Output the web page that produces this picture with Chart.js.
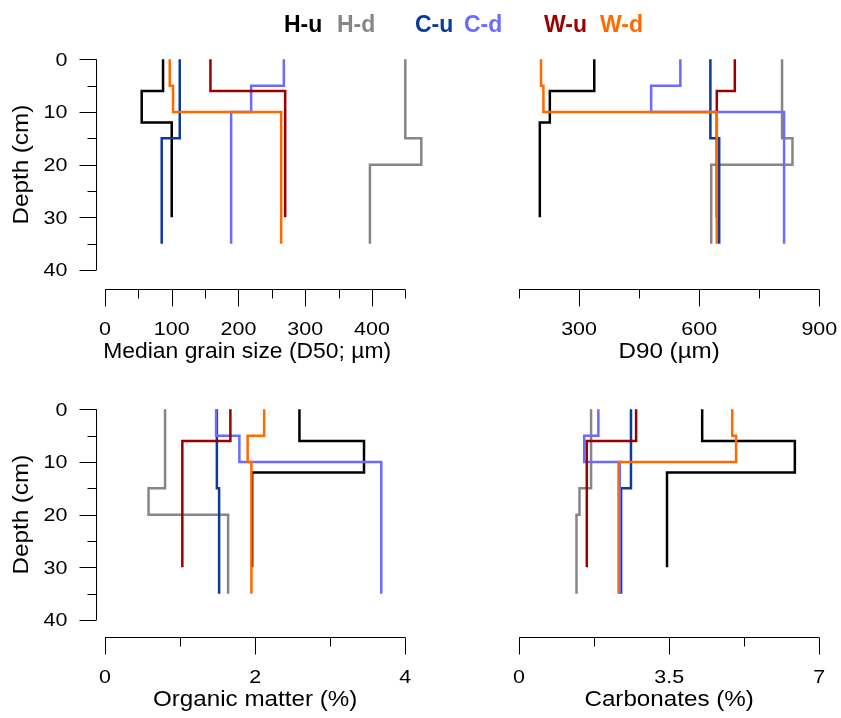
<!DOCTYPE html>
<html>
<head>
<meta charset="utf-8">
<script src="https://cdn.jsdelivr.net/npm/chart.js@4.4.1/dist/chart.umd.min.js"></script>
<style>
html,body{margin:0;padding:0;background:#fff;}
#wrap{position:relative;width:841px;height:718px;overflow:hidden;}
#wrap canvas{position:absolute;left:0;top:0;}
#legend{position:absolute;left:0;top:0;width:841px;height:40px;font:bold 23px/23px "Liberation Sans",Arial,sans-serif;}
#legend span{position:absolute;top:13px;white-space:nowrap;}
</style>
</head>
<body>
<div id="wrap">
<canvas id="c1" width="841" height="718"></canvas>
<canvas id="c2" width="841" height="718"></canvas>
<canvas id="c3" width="841" height="718"></canvas>
<canvas id="c4" width="841" height="718"></canvas>
<div id="legend"></div>
</div>
<script>
// ---------- series names & colours ----------
const seriesNames = ['H-u', 'H-d', 'C-u', 'C-d', 'W-u', 'W-d'];
const seriesColors = ['#000000', '#868686', '#0a3a9c', '#6b6bff', '#9b0000', '#ff6a00'];

// ---------- layer boundaries (depth, cm) ----------
const depthHu = [0, 6, 12, 30];
const depthHd = [0, 15, 20, 35];
const depthCu = [0, 15, 35];
const depthCd = [0, 5, 10, 35];
const depthWu = [0, 6, 30];
const depthWd = [0, 5, 10, 35];

// ---------- Median grain size D50 (µm) ----------
const d50Hu = [87, 55, 100];
const d50Hd = [450, 474, 397];
const d50Cu = [112, 85];
const d50Cd = [268, 219, 189];
const d50Wu = [158, 270];
const d50Wd = [97, 102, 264];

// ---------- D90 (µm) ----------
const d90Hu = [338, 227, 202];
const d90Hd = [807, 833, 630];
const d90Cu = [628, 650];
const d90Cd = [553, 480, 812];
const d90Wu = [689, 644];
const d90Wd = [205, 211, 644];

// ---------- Organic matter (%) ----------
const omHu = [2.59, 3.45, 1.96];
const omHd = [0.80, 0.58, 1.64];
const omCu = [1.49, 1.52];
const omCd = [1.48, 1.79, 3.68];
const omWu = [1.67, 1.03];
const omWd = [2.12, 1.90, 1.95];

// ---------- Carbonates (%) ----------
const carbHu = [4.27, 6.43, 3.45];
const carbHd = [1.68, 1.41, 1.34];
const carbCu = [2.61, 2.38];
const carbCd = [1.85, 1.52, 2.35];
const carbWu = [2.73, 1.58];
const carbWd = [4.97, 5.06, 2.32];

// ---------- tick labels ----------
const depthMajorTicks = [0, 10, 20, 30, 40];
const depthMinorTicks = [5, 15, 25, 35];
const d50MajorTicks = [0, 100, 200, 300, 400];
const d50MinorTicks = [50, 150, 250, 350, 450];
const d50TickLabels = ['0', '100', '200', '300', '400'];
const d90MajorTicks = [300, 600, 900];
const d90MinorTicks = [150, 450, 750];
const d90TickLabels = ['300', '600', '900'];
const omMajorTicks = [0, 2, 4];
const omMinorTicks = [1, 3];
const omTickLabels = ['0', '2', '4'];
const carbMajorTicks = [0, 3.5, 7];
const carbMinorTicks = [1.75, 5.25];
const carbTickLabels = ['0', '3.5', '7'];

const depths = [depthHu, depthHd, depthCu, depthCd, depthWu, depthWd];

// legend
const legendLeft = [284, 337, 415, 464, 544, 600];
const legendEl = document.getElementById('legend');
seriesNames.forEach((n, i) => {
  const s = document.createElement('span');
  s.textContent = n;
  s.style.color = seriesColors[i];
  s.style.left = legendLeft[i] + 'px';
  legendEl.appendChild(s);
});

function stepPoints(vals, dep) {
  const pts = [];
  for (let i = 0; i < vals.length; i++) {
    pts.push({x: vals[i], y: dep[i]});
    pts.push({x: vals[i], y: dep[i + 1]});
  }
  return pts;
}

const FONT = '"Liberation Sans", Arial, sans-serif';
const TICK_FONT = '19px ' + FONT, TICK_SX = 1.13;
const TITLE_FONT = '22px ' + FONT, TITLE_SX = 1.1;

function wideText(ctx, text, x, y, sx, align, rot) {
  ctx.save();
  ctx.translate(x, y);
  if (rot) ctx.rotate(rot);
  ctx.scale(sx, 1);
  ctx.textAlign = align;
  ctx.textBaseline = 'middle';
  ctx.fillText(text, 0, 0);
  ctx.restore();
}

const axesPlugin = {
  id: 'rAxes',
  afterDraw(chart, args, o) {
    const ctx = chart.ctx;
    const xs = chart.scales.x, ys = chart.scales.y;
    ctx.save();
    ctx.strokeStyle = '#000';
    ctx.fillStyle = '#000';
    ctx.lineWidth = 1;
    // x axis
    const ay = Math.round(ys.getPixelForValue(40) + o.xGap) + 0.5;
    const x0 = xs.getPixelForValue(xs.min), x1 = xs.getPixelForValue(xs.max);
    ctx.beginPath();
    ctx.moveTo(x0, ay); ctx.lineTo(x1, ay);
    o.xMajor.forEach(v => { const p = Math.round(xs.getPixelForValue(v)) + 0.5; ctx.moveTo(p, ay); ctx.lineTo(p, ay + 17); });
    o.xMinor.forEach(v => { const p = Math.round(xs.getPixelForValue(v)) + 0.5; ctx.moveTo(p, ay); ctx.lineTo(p, ay + 9); });
    ctx.stroke();
    ctx.font = TICK_FONT;
    o.xMajor.forEach((v, i) => wideText(ctx, o.xLabels[i], xs.getPixelForValue(v), ay + 40, TICK_SX, 'center'));
    ctx.font = TITLE_FONT;
    wideText(ctx, o.title, (x0 + x1) / 2 + o.titleShift, ay + 62, o.titleSx, 'center');
    // y axis
    if (o.showY) {
      const ax = Math.round(xs.getPixelForValue(xs.min) - 9) + 0.5;
      const y0 = ys.getPixelForValue(0), y1 = ys.getPixelForValue(40);
      ctx.beginPath();
      ctx.moveTo(ax, y0); ctx.lineTo(ax, y1);
      depthMajorTicks.forEach(v => { const p = Math.round(ys.getPixelForValue(v)) + 0.5; ctx.moveTo(ax, p); ctx.lineTo(ax - 17, p); });
      depthMinorTicks.forEach(v => { const p = Math.round(ys.getPixelForValue(v)) + 0.5; ctx.moveTo(ax, p); ctx.lineTo(ax - 9, p); });
      ctx.stroke();
      ctx.font = TICK_FONT;
      depthMajorTicks.forEach(v => wideText(ctx, String(v), ax - 29, ys.getPixelForValue(v) + 1, TICK_SX, 'right'));
      ctx.font = TITLE_FONT;
      wideText(ctx, 'Depth (cm)', 22, (y0 + y1) / 2, TITLE_SX, 'center', -Math.PI / 2);
    }
    ctx.restore();
  }
};

function makeChart(id, valueSets, xmin, xmax, area, axisOpts) {
  const datasets = [];
  for (let i = valueSets.length - 1; i >= 0; i--) {
    datasets.push({
      label: seriesNames[i],
      data: stepPoints(valueSets[i], depths[i]),
      borderColor: seriesColors[i],
      borderWidth: 2.5,
      pointRadius: 0,
      tension: 0,
      fill: false,
      clip: false,
      borderCapStyle: 'butt',
      borderJoinStyle: 'miter'
    });
  }
  return new Chart(document.getElementById(id), {
    type: 'line',
    data: {datasets},
    options: {
      responsive: false,
      animation: false,
      devicePixelRatio: 1,
      events: [],
      layout: {padding: {left: area[0], right: 841 - area[1], top: area[2], bottom: 718 - area[3]}},
      scales: {
        x: {type: 'linear', min: xmin, max: xmax, display: false},
        y: {type: 'linear', min: 0, max: 40, reverse: true, display: false}
      },
      plugins: {legend: {display: false}, tooltip: {enabled: false}, rAxes: axisOpts}
    },
    plugins: [axesPlugin]
  });
}

makeChart('c1', [d50Hu, d50Hd, d50Cu, d50Cd, d50Wu, d50Wd], 0, 450, [105, 405.3, 59.3, 270],
  {xMajor: d50MajorTicks, xMinor: d50MinorTicks, xLabels: d50TickLabels, title: 'Median grain size (D50; µm)', showY: true, xGap: 19, titleShift: -8, titleSx: 1.04});
makeChart('c2', [d90Hu, d90Hd, d90Cu, d90Cd, d90Wu, d90Wd], 150, 900, [519, 819.3, 59.3, 270],
  {xMajor: d90MajorTicks, xMinor: d90MinorTicks, xLabels: d90TickLabels, title: 'D90 (µm)', showY: false, xGap: 19, titleShift: 0, titleSx: 1.1});
makeChart('c3', [omHu, omHd, omCu, omCd, omWu, omWd], 0, 4, [105, 405.3, 409.3, 620],
  {xMajor: omMajorTicks, xMinor: omMinorTicks, xLabels: omTickLabels, title: 'Organic matter (%)', showY: true, xGap: 17, titleShift: 0, titleSx: 1.1});
makeChart('c4', [carbHu, carbHd, carbCu, carbCd, carbWu, carbWd], 0, 7, [519, 819.3, 409.3, 620],
  {xMajor: carbMajorTicks, xMinor: carbMinorTicks, xLabels: carbTickLabels, title: 'Carbonates (%)', showY: false, xGap: 17, titleShift: 0, titleSx: 1.1});
</script>
</body>
</html>
